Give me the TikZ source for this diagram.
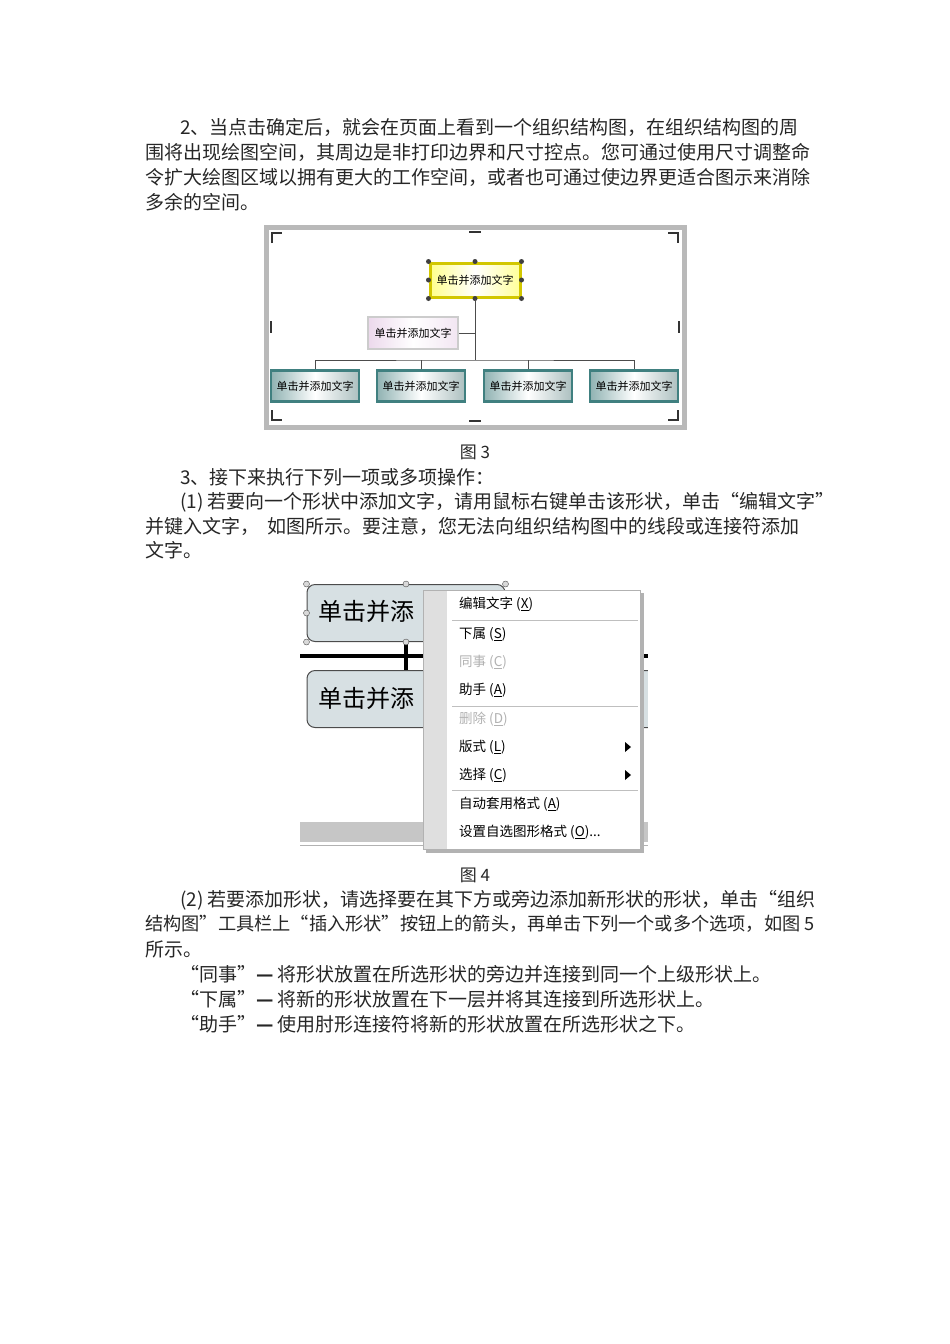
\documentclass[tikz,border=0pt]{standalone}
\usepackage{fontspec}
\setmainfont{Noto Sans CJK SC}
\begin{document}
\begin{tikzpicture}[x=1pt,y=-1pt,
  body/.style={anchor=west,inner sep=0pt,font=\fontsize{19}{19}\selectfont,text=black!85},
  figcap/.style={anchor=center,inner sep=0pt,font=\fontsize{17}{17}\selectfont,text=black!85},
  tbox/.style={draw=teal!50!gray,line width=2.5pt,left color=teal!45!gray!60,right color=teal!30!gray!50,middle color=white,minimum width=88pt,minimum height=31pt,inner sep=0pt,font=\fontsize{11}{11}\selectfont},
  hdl/.style={circle,fill=gray!50!black,inner sep=0pt,minimum size=5pt},
  hdl2/.style={circle,draw=black!70,fill=gray!30,inner sep=0pt,minimum size=6pt},
  mi/.style={anchor=west,inner sep=0pt,font=\fontsize{13.5}{13.5}\selectfont},
  mig/.style={mi,text=gray!60},
  sep/.style={draw=gray!50,line width=1pt},
  conn/.style={draw=gray!60!black,line width=1pt}]
\useasboundingbox (0,0) rectangle (950,1344);
% text
\node[body] (l1) at (180,127) {2、当点击确定后，就会在页面上看到一个组织结构图，在组织结构图的周};
\node[body] (l2) at (145,152) {围将出现绘图空间，其周边是非打印边界和尺寸控点。您可通过使用尺寸调整命};
\node[body] (l3) at (145,177) {令扩大绘图区域以拥有更大的工作空间，或者也可通过使边界更适合图示来消除};
\node[body] (l4) at (145,202) {多余的空间。};
\node[figcap] (c3) at (475,452) {图 3};
\node[body] (l5) at (180,477) {3、接下来执行下列一项或多项操作：};
\node[body] (l6) at (180,502) {(1) 若要向一个形状中添加文字，请用鼠标右键单击该形状，单击“编辑文字”};
\node[body] (l7) at (145,526) {并键入文字，\ \ 如图所示。要注意，您无法向组织结构图中的线段或连接符添加};
\node[body] (l8) at (145,550) {文字。};
\node[figcap] (c4) at (475,875) {图 4};
\node[body] (l9) at (180,900) {(2) 若要添加形状，请选择要在其下方或旁边添加新形状的形状，单击“组织};
\node[body,font=\fontsize{18.2}{18.2}\selectfont] (l10) at (145,924) {结构图”工具栏上“插入形状”按钮上的箭头，再单击下列一个或多个选项，如图 5};
\node[body] (l11) at (145,949) {所示。};
\node[body] (l12) at (180,974) {“同事”\textbf{—} 将形状放置在所选形状的旁边并连接到同一个上级形状上。};
\node[body] (l13) at (180,999) {“下属”\textbf{—} 将新的形状放置在下一层并将其连接到所选形状上。};
\node[body] (l14) at (180,1024) {“助手”\textbf{—} 使用肘形连接符将新的形状放置在所选形状之下。};
% figure 3
\draw[gray!55,line width=5pt,fill=white] (266,227) rectangle (684,427);
\draw[black!80,line width=2.5pt] (272,243) -- (272,233) -- (282,233);
\draw[black!80,line width=2.5pt] (668,233) -- (678,233) -- (678,243);
\draw[black!80,line width=2.5pt] (272,410) -- (272,420) -- (282,420);
\draw[black!80,line width=2.5pt] (668,420) -- (678,420) -- (678,410);
\draw[black!80,line width=2.5pt] (469,232) -- (481,232);
\draw[black!80,line width=2.5pt] (469,421) -- (481,421);
\draw[black!80,line width=2.5pt] (271,321) -- (271,333);
\draw[black!80,line width=2.5pt] (679,321) -- (679,333);
\node[draw=yellow!60!olive,line width=3pt,left color=yellow!45,right color=yellow!40,middle color=white,minimum width=90pt,minimum height=34pt,inner sep=0pt,font=\fontsize{11}{11}\selectfont] (top) at (475,280) {单击并添加文字};
\foreach \p/\n in {north west/a,north/b,north east/c,west/d,east/e,south west/f,south/g,south east/h}
  \node[hdl] (h\n) at (top.\p) {};
\node[draw=gray!40,line width=2pt,left color=violet!15,right color=violet!10,middle color=white,minimum width=90pt,minimum height=32pt,inner sep=0pt,font=\fontsize{11}{11}\selectfont] (asst) at (413,333) {单击并添加文字};
\node[tbox] (b1) at (315,386) {单击并添加文字};
\node[tbox] (b2) at (421,386) {单击并添加文字};
\node[tbox] (b3) at (528,386) {单击并添加文字};
\node[tbox] (b4) at (634,386) {单击并添加文字};
\coordinate (bus) at (475,360);
\draw[conn] (top.south) -- (bus);
\draw[conn] (asst.east) -- (asst.east -| top.south);
\draw[conn] (b1.north) |- (bus) -| (b4.north);
\draw[conn] (b2.north) -- (b2.north |- bus);
\draw[conn] (b3.north) -- (b3.north |- bus);
% figure 4
\fill[gray!45] (300,822) rectangle (648,842);
\draw[gray!60] (300,845) -- (648,845);
\node[draw=black!70,line width=1pt,rounded corners=8pt,fill=cyan!20!gray!30,minimum width=198pt,minimum height=57pt,inner sep=0pt] (f1) at (406,613) {};
\node[anchor=west,inner sep=0pt,font=\fontsize{24}{24}\selectfont] (f1t) at (318,611) {单击并添};
\node[draw=black!70,line width=1pt,rounded corners=8pt,fill=cyan!20!gray!30,minimum width=360pt,minimum height=57pt,inner sep=0pt] (f2) at (487,699) {};
\node[anchor=west,inner sep=0pt,font=\fontsize{24}{24}\selectfont] (f2t) at (318,698) {单击并添};
\draw[black,line width=4pt] (300,656) -- (648,656);
\draw[black,line width=4pt] (f1.south) -- (f2.north -| f1.south);
\foreach \p/\n in {north west/a,north/b,north east/c,west/d,south west/f,south/g}
  \node[hdl2] (k\n) at (f1.\p) {};
\fill[white] (648,560) rectangle (700,860);
% menu
\fill[gray!60] (426,593) rectangle (644,853);
\node[draw=gray!60,fill=white,minimum width=217pt,minimum height=259pt,inner sep=0pt,anchor=north west] (menu) at (423,590) {};
\fill[gray!25] (424,591) rectangle (447,849);
\node[mi] (m1) at (459,604) {编辑文字 (\underline{X})};
\draw[sep] (452,620) -- (638,620);
\node[mi] (m2) at (459,634) {下属 (\underline{S})};
\node[mig] (m3) at (459,662) {同事 (\underline{C})};
\node[mi] (m4) at (459,690) {助手 (\underline{A})};
\draw[sep] (452,706) -- (638,706);
\node[mig] (m5) at (459,719) {删除 (\underline{D})};
\node[mi] (m6) at (459,747) {版式 (\underline{L})};
\node[mi] (m7) at (459,775) {选择 (\underline{C})};
\fill (625,742) -- (631,747) -- (625,752) -- cycle;
\fill (625,770) -- (631,775) -- (625,780) -- cycle;
\draw[sep] (452,790) -- (638,790);
\node[mi] (m8) at (459,804) {自动套用格式 (\underline{A})};
\node[mi] (m9) at (459,832) {设置自选图形格式 (\underline{O})...};
\end{tikzpicture}
\end{document}
